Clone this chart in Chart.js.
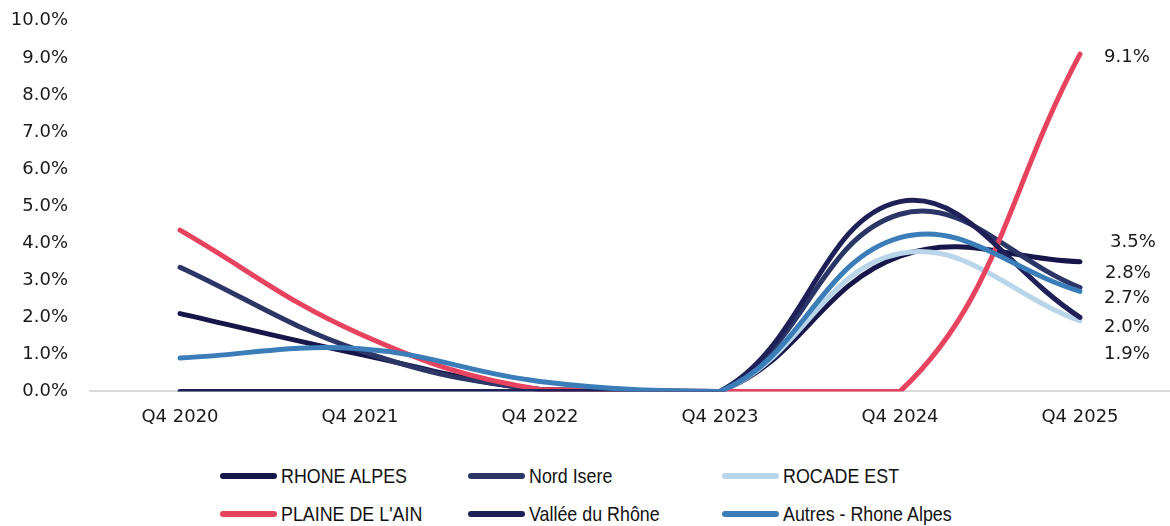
<!DOCTYPE html>
<html>
<head>
<meta charset="utf-8">
<script src="https://cdn.jsdelivr.net/npm/chart.js@4.4.1/dist/chart.umd.min.js"></script>
<style>
  body { margin: 0; background: #fff; }
  #wrap { position: relative; width: 1170px; height: 526px; overflow: hidden; }
  #box { position: absolute; left: 0; top: -12px; width: 1170px; height: 471px; }
  #legend { position: absolute; left: 220px; top: 466px; display: grid;
    grid-template-columns: 248px 254px 260px; row-gap: 18px;
    font-family: "Liberation Sans", sans-serif; font-size: 21px; color: #111; }
  .item { display: flex; align-items: center; height: 20px; white-space: nowrap; }
  .mk { width: 57px; height: 6px; border-radius: 3px; margin-right: 4px; flex: none; }
  .tx { display: inline-block; transform: scaleX(0.85); transform-origin: left center; }
</style>
</head>
<body>
<div id="wrap">
  <div id="box"><canvas id="myChart"></canvas></div>
  <div id="legend"></div>
</div>
<script>
const quarters = ['Q4 2020', 'Q4 2021', 'Q4 2022', 'Q4 2023', 'Q4 2024', 'Q4 2025'];

const rhoneAlpes   = [2.1, 1.0, 0.05, 0, 3.65, 3.5];
const nordIsere    = [3.35, 1.1, 0.05, 0, 4.78, 2.8];
const rocadeEst    = [0, 0, 0, 0, 3.72, 1.9];
const plaineDeLAin = [4.35, 1.55, 0.05, 0, 0, 9.1];
const valleeRhone  = [0, 0, 0, 0, 5.12, 2.0];
const autres       = [0.9, 1.15, 0.27, 0, 4.15, 2.7];

const yTicks = [0, 1, 2, 3, 4, 5, 6, 7, 8, 9, 10];

const tickFont = { family: 'DejaVu Sans', size: 18 };

// label offset from the last point (px)
const series = [
  { label: 'RHONE ALPES', data: rhoneAlpes, color: '#16164a', lbl: [30, -19] },
  { label: 'Nord Isere', data: nordIsere, color: '#2b3566', lbl: [25, -14] },
  { label: 'ROCADE EST', data: rocadeEst, color: '#b9d5ea', lbl: [24, 33] },
  { label: "PLAINE DE L'AIN", data: plaineDeLAin, color: '#e8435e', lbl: [24, 3] },
  { label: 'Vallée du Rhône', data: valleeRhone, color: '#1f2058', lbl: [24, 10] },
  { label: 'Autres - Rhone Alpes', data: autres, color: '#3a7db8', lbl: [24, 7] }
];

const endLabels = {
  id: 'endLabels',
  afterDatasetsDraw(chart) {
    const c = chart.ctx;
    c.save();
    c.font = '18px "DejaVu Sans"';
    c.fillStyle = '#1a1a1a';
    c.textBaseline = 'middle';
    c.textAlign = 'left';
    chart.data.datasets.forEach((ds, i) => {
      const meta = chart.getDatasetMeta(i);
      const last = meta.data[meta.data.length - 1];
      const off = series[i].lbl;
      c.fillText(ds.data[ds.data.length - 1].toFixed(1) + '%', last.x + off[0], last.y + off[1]);
    });
    c.restore();
  }
};

const ctx = document.getElementById('myChart');
new Chart(ctx, {
  type: 'line',
  data: {
    labels: quarters,
    datasets: series.map((s, i) => ({
      label: s.label,
      data: s.data,
      borderColor: s.color,
      backgroundColor: s.color,
      borderWidth: 5,
      borderCapStyle: 'round',
      pointRadius: 0,
      tension: 0.4,
      order: series.length - i
    }))
  },
  options: {
    responsive: true,
    maintainAspectRatio: false,
    animation: false,
    layout: { padding: { top: 10, right: 0, bottom: 16, left: 0 } },
    plugins: {
      legend: { display: false },
      tooltip: { enabled: false }
    },
    scales: {
      x: {
        offset: true,
        grid: { display: false, drawTicks: false, offset: true },
        border: { color: '#d9d9d9', width: 2 },
        ticks: { font: tickFont, color: '#1a1a1a', padding: 15 }
      },
      y: {
        min: 0,
        max: 10,
        afterBuildTicks: (s) => { s.ticks = yTicks.map(v => ({ value: v })); },
        afterFit: (s) => { s.width = 90; },
        grid: { display: false, drawTicks: false },
        border: { display: false },
        ticks: {
          font: tickFont,
          color: '#1a1a1a',
          padding: 22,
          callback: (v) => v.toFixed(1) + '%'
        }
      }
    }
  },
  plugins: [endLabels]
});

const leg = document.getElementById('legend');
series.forEach(s => {
  const d = document.createElement('div');
  d.className = 'item';
  d.innerHTML = '<span class="mk" style="background:' + s.color + '"></span><span class="tx">' + s.label + '</span>';
  leg.appendChild(d);
});
</script>
</body>
</html>
